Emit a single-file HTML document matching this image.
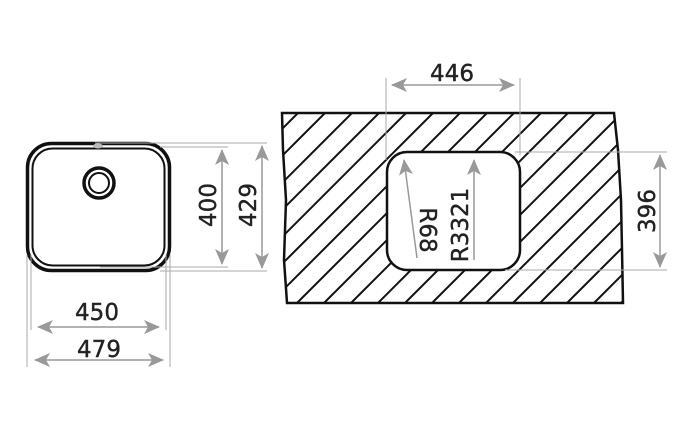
<!DOCTYPE html>
<html><head><style>html,body{margin:0;padding:0;background:#fff;}svg{display:block}</style></head>
<body>
<svg width="676" height="432" viewBox="0 0 676 432" xmlns="http://www.w3.org/2000/svg">
<defs>
<marker id="a" viewBox="0 0 16 14" refX="15" refY="7" markerWidth="16" markerHeight="14" markerUnits="userSpaceOnUse" orient="auto-start-reverse">
<path d="M0,0 L16,7 L0,14 L4,7 z" fill="#999"/>
</marker>
<clipPath id="slab"><path d="M282,113 L614,113 L618,150 L621,200 L622,250 L623,303 L287,303 L284,260 L286,200 L283,150 Z"/></clipPath>
</defs>
<g font-family="'DejaVu Sans','Liberation Sans',sans-serif" font-size="23" fill="#222" stroke="#222" stroke-width="0.4">
<!-- left sink -->
<rect x="27.5" y="143.5" width="142" height="127" rx="24" fill="none" stroke="#111" stroke-width="3.5"/>
<rect x="32.5" y="148.5" width="132" height="117" rx="20" fill="none" stroke="#111" stroke-width="2"/>
<circle cx="99" cy="183" r="15" fill="none" stroke="#111" stroke-width="3.5"/>
<circle cx="99" cy="183" r="10" fill="none" stroke="#111" stroke-width="2"/>
<ellipse cx="98" cy="146" rx="5" ry="2.5" fill="#bbb" stroke="none"/>
<g stroke="#aaa" stroke-width="1" fill="none">
<line x1="95" y1="143" x2="267" y2="143"/>
<line x1="160" y1="147" x2="228" y2="147"/>
<line x1="100" y1="267" x2="228" y2="267"/>
<line x1="160" y1="271" x2="267" y2="271"/>
<line x1="31" y1="255" x2="31" y2="330"/>
<line x1="166" y1="255" x2="166" y2="330"/>
<line x1="27" y1="255" x2="27" y2="367"/>
<line x1="170" y1="255" x2="170" y2="367"/>
</g>
<g stroke="#999" stroke-width="1.5" fill="none">
<line x1="222" y1="150" x2="222" y2="264" marker-start="url(#a)" marker-end="url(#a)"/>
<line x1="262" y1="146" x2="262" y2="268" marker-start="url(#a)" marker-end="url(#a)"/>
<line x1="38" y1="327" x2="159" y2="327" marker-start="url(#a)" marker-end="url(#a)"/>
<line x1="35" y1="360" x2="163" y2="360" marker-start="url(#a)" marker-end="url(#a)"/>
</g>
<text x="97" y="320" text-anchor="middle">450</text>
<text x="99" y="357" text-anchor="middle">479</text>
<text transform="translate(216,205) rotate(-90)" text-anchor="middle">400</text>
<text transform="translate(256,205) rotate(-90)" text-anchor="middle">429</text>
<!-- right slab -->
<g clip-path="url(#slab)" stroke="#111" stroke-width="2">
<line x1="0" y1="303" x2="190" y2="113"/><line x1="27" y1="303" x2="217" y2="113"/>
<line x1="54" y1="303" x2="244" y2="113"/><line x1="81" y1="303" x2="271" y2="113"/>
<line x1="108" y1="303" x2="298" y2="113"/><line x1="135" y1="303" x2="325" y2="113"/>
<line x1="162" y1="303" x2="352" y2="113"/><line x1="189" y1="303" x2="379" y2="113"/>
<line x1="216" y1="303" x2="406" y2="113"/><line x1="243" y1="303" x2="433" y2="113"/>
<line x1="270" y1="303" x2="460" y2="113"/><line x1="297" y1="303" x2="487" y2="113"/>
<line x1="324" y1="303" x2="514" y2="113"/><line x1="351" y1="303" x2="541" y2="113"/>
<line x1="378" y1="303" x2="568" y2="113"/><line x1="405" y1="303" x2="595" y2="113"/>
<line x1="432" y1="303" x2="622" y2="113"/><line x1="459" y1="303" x2="649" y2="113"/>
<line x1="486" y1="303" x2="676" y2="113"/><line x1="513" y1="303" x2="703" y2="113"/>
<line x1="540" y1="303" x2="730" y2="113"/><line x1="567" y1="303" x2="757" y2="113"/>
<line x1="594" y1="303" x2="784" y2="113"/><line x1="621" y1="303" x2="811" y2="113"/>
</g>
<path d="M282,113 L614,113 L618,150 L621,200 L622,250 L623,303 L287,303 L284,260 L286,200 L283,150 Z" fill="none" stroke="#111" stroke-width="2.5"/>
<rect x="387" y="152" width="133" height="118" rx="20" fill="#fff" stroke="#111" stroke-width="2.5"/>
<g stroke="#aaa" stroke-width="1" fill="none">
<line x1="386" y1="78" x2="386" y2="160"/>
<line x1="520" y1="78" x2="520" y2="155"/>
<line x1="515" y1="152" x2="667" y2="152"/>
<line x1="505" y1="270" x2="667" y2="270"/>
</g>
<g stroke="#999" stroke-width="1.5" fill="none">
<line x1="392" y1="85" x2="514" y2="85" marker-start="url(#a)" marker-end="url(#a)"/>
<line x1="660" y1="155" x2="660" y2="267" marker-start="url(#a)" marker-end="url(#a)"/>
<line x1="417" y1="258" x2="404" y2="160" marker-end="url(#a)"/>
<line x1="474" y1="260" x2="474" y2="160" marker-end="url(#a)"/>
</g>
<text x="452" y="81" text-anchor="middle">446</text>
<text transform="translate(655,211) rotate(-90)" text-anchor="middle">396</text>
<text transform="translate(420,230) rotate(90)" text-anchor="middle">R68</text>
<text transform="translate(468,225) rotate(-90)" text-anchor="middle">R3321</text>
</g>
</svg>
</body></html>
